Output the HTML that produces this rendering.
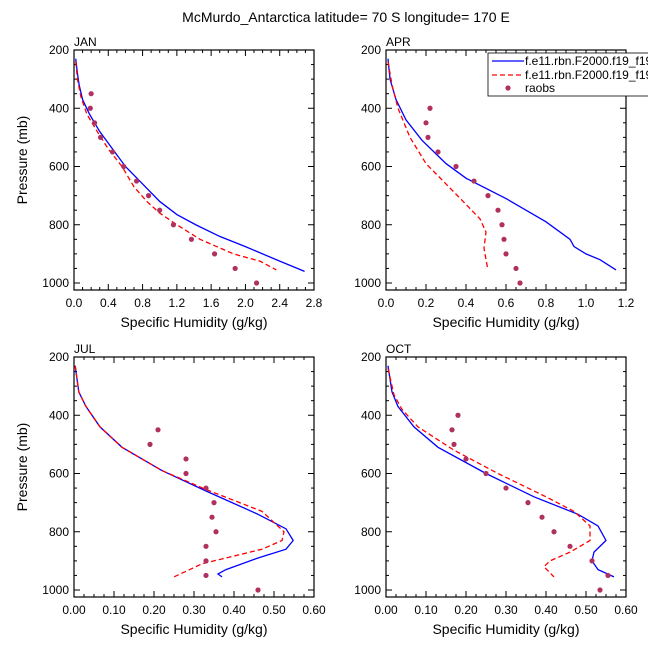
<!DOCTYPE html>
<html><head><meta charset="utf-8"><style>
body{margin:0;background:#fff;}
svg{display:block;font-family:"Liberation Sans",sans-serif;}
</style></head><body>
<svg id="c" width="648" height="649"></svg>
<script>
const months=["JAN","APR","JUL","OCT"];
const xMax=[2.8,1.2,0.6,0.6];
const xTickLabels=[["0.0","0.4","0.8","1.2","1.6","2.0","2.4","2.8"],["0.0","0.2","0.4","0.6","0.8","1.0","1.2"],["0.00","0.10","0.20","0.30","0.40","0.50","0.60"],["0.00","0.10","0.20","0.30","0.40","0.50","0.60"]];
const yTickLabels=[200,400,600,800,1000];
const obsP=[350,400,450,500,550,600,650,700,750,800,850,900,950,1000];
const blueJAN=[[0.02,230],[0.04,280],[0.06,320],[0.1,370],[0.18,420],[0.3,480],[0.45,540],[0.6,600],[0.8,660],[1.0,720],[1.2,765],[1.42,800],[1.7,840],[2.0,875],[2.4,925],[2.69,960]];
const redJAN=[[0.02,240],[0.04,300],[0.08,360],[0.15,420],[0.25,470],[0.4,540],[0.56,600],[0.7,670],[0.85,720],[1.0,760],[1.2,800],[1.47,850],[1.86,900],[2.17,925],[2.36,955]];
const obsJAN=[0.2,0.19,0.24,0.31,0.45,0.58,0.73,0.87,1.0,1.16,1.37,1.64,1.88,2.13];
const blueAPR=[[0.01,230],[0.02,300],[0.05,370],[0.1,440],[0.18,510],[0.3,590],[0.4,640],[0.6,710],[0.8,790],[0.92,850],[0.94,875],[1.0,900],[1.07,920],[1.15,955]];
const redAPR=[[0.01,240],[0.03,320],[0.06,400],[0.12,500],[0.2,590],[0.3,660],[0.4,730],[0.47,780],[0.5,825],[0.49,880],[0.5,920],[0.51,955]];
const obsAPR=[null,0.22,0.2,0.21,0.26,0.35,0.44,0.51,0.56,0.58,0.59,0.6,0.65,0.67];
const blueJUL=[[0.003,230],[0.012,320],[0.03,370],[0.065,440],[0.12,510],[0.22,590],[0.33,660],[0.46,740],[0.53,790],[0.548,830],[0.53,860],[0.46,890],[0.38,930],[0.36,945],[0.37,955]];
const redJUL=[[0.003,230],[0.012,320],[0.03,370],[0.065,440],[0.12,510],[0.22,590],[0.33,655],[0.47,730],[0.525,800],[0.52,830],[0.47,860],[0.38,890],[0.32,910],[0.25,955]];
const obsJUL=[null,null,0.21,0.19,0.28,0.28,0.33,0.35,0.345,0.355,0.33,0.33,0.33,0.46];
const blueOCT=[[0.005,230],[0.015,320],[0.03,370],[0.07,440],[0.13,510],[0.25,600],[0.37,680],[0.48,740],[0.53,780],[0.55,830],[0.52,870],[0.515,900],[0.53,930],[0.57,955]];
const redOCT=[[0.005,240],[0.02,330],[0.04,380],[0.08,440],[0.17,520],[0.28,600],[0.4,680],[0.47,730],[0.51,780],[0.51,830],[0.46,870],[0.41,900],[0.395,920],[0.42,955]];
const obsOCT=[null,0.18,0.165,0.17,0.2,0.25,0.3,0.355,0.39,0.42,0.46,0.515,0.555,0.535];
const blues=[blueJAN,blueAPR,blueJUL,blueOCT],reds=[redJAN,redAPR,redJUL,redOCT],obs=[obsJAN,obsAPR,obsJUL,obsOCT];
const ox=[74,386,74,386],oy=[50,50,357,357],W=240,H=240;
const svg=document.getElementById('c');
const NS="http://www.w3.org/2000/svg";
function mk(t,a,p){const e=document.createElementNS(NS,t);for(const k in a)e.setAttribute(k,a[k]);(p||svg).appendChild(e);return e;}
let t=mk('text',{x:346,y:22,'text-anchor':'middle','font-size':14});t.textContent="McMurdo_Antarctica  latitude= 70 S longitude= 170 E";


for(let i=0;i<4;i++){
 const g=mk('g',{});
 
 
 const X=v=>ox[i]+v/xMax[i]*W, Y=p=>oy[i]+(p-200)/800*233;
 let lb=mk('text',{x:ox[i],y:oy[i]-4,'font-size':12},g);lb.textContent=months[i];
 
 
 mk('rect',{x:ox[i],y:oy[i],width:W,height:H,fill:'none',stroke:'#000','stroke-width':1.2},g);
 const n=xTickLabels[i].length;
 for(let k=0;k<n;k++){const x=ox[i]+k*W/(n-1);
  mk('line',{x1:x,x2:x,y1:oy[i]+H,y2:oy[i]+H-6,stroke:'#000'},g);mk('line',{x1:x,x2:x,y1:oy[i],y2:oy[i]+6,stroke:'#000'},g);
  let tl=mk('text',{x:x,y:oy[i]+H+17,'text-anchor':'middle','font-size':12},g);tl.textContent=xTickLabels[i][k];
  
  
  if(k<n-1)for(let m=1;m<4;m++){const xm=x+m*W/(n-1)/4;mk('line',{x1:xm,x2:xm,y1:oy[i]+H,y2:oy[i]+H-3,stroke:'#000'},g);mk('line',{x1:xm,x2:xm,y1:oy[i],y2:oy[i]+3,stroke:'#000'},g);}
 }
 for(let p=200;p<=1000;p+=50){const y=Y(p),L=p%200==0?6:3;
  mk('line',{x1:ox[i],x2:ox[i]+L,y1:y,y2:y,stroke:'#000'},g);mk('line',{x1:ox[i]+W,x2:ox[i]+W-L,y1:y,y2:y,stroke:'#000'},g);}
 yTickLabels.forEach(p=>{let yl=mk('text',{x:ox[i]-5,y:Y(p)+4,'text-anchor':'end','font-size':12},g);yl.textContent=p;
  
  });
 let xt=mk('text',{x:ox[i]+W/2,y:oy[i]+H+37,'text-anchor':'middle','font-size':14},g);xt.textContent="Specific Humidity (g/kg)";
 
 
 if(i%2==0){let yt=mk('text',{x:0,y:0,'text-anchor':'middle','font-size':14,transform:`translate(${ox[i]-47},${oy[i]+H/2-10}) rotate(-90)`},g);yt.textContent="Pressure (mb)";
  
  }
 let b=mk('polyline',{points:blues[i].map(d=>X(d[0])+','+Y(d[1])).join(' '),fill:'none',stroke:'#0000ff','stroke-width':1.3},g);
 
 
 let r=mk('polyline',{points:reds[i].map(d=>X(d[0])+','+Y(d[1])).join(' '),fill:'none',stroke:'#ff0000','stroke-width':1.3,'stroke-dasharray':'5,3'},g);
 
 
 obs[i].forEach((v,k)=>{if(v==null)return;let c=mk('circle',{cx:X(v),cy:Y(obsP[k]),r:2.6,fill:'#b03060'},g);
  
  });
}
const lg=mk('g',{});


mk('rect',{x:488,y:53,width:170,height:43,fill:'#fff',stroke:'#000','stroke-width':0.8},lg);
mk('line',{x1:492,x2:524,y1:61,y2:61,stroke:'#0000ff','stroke-width':1.3},lg);
mk('line',{x1:492,x2:524,y1:75,y2:75,stroke:'#ff0000','stroke-width':1.3,'stroke-dasharray':'5,3'},lg);
mk('circle',{cx:508,cy:88,r:2.6,fill:'#b03060'},lg);
[["f.e11.rbn.F2000.f19_f19",65],["f.e11.rbn.F2000.f19_f19",79],["raobs",92]].forEach(d=>{let tt=mk('text',{x:525,y:d[1],'font-size':12},lg);tt.textContent=d[0];
 
 });
</script>
</body></html>
